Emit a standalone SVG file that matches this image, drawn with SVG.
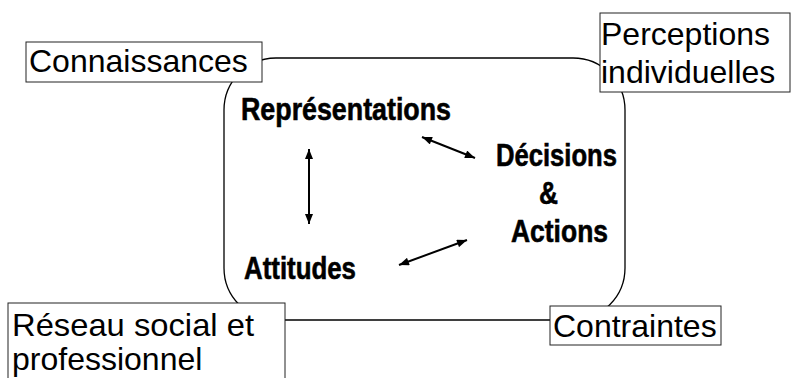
<svg xmlns="http://www.w3.org/2000/svg" width="792" height="378" viewBox="0 0 792 378">
<defs>
<style>
.frame{fill:none;stroke:#000;stroke-width:1.3}
.box{fill:#fff;stroke:#222;stroke-width:1}
.lbl{font-family:"Liberation Sans",Arial,sans-serif;font-size:32px;fill:#000}
.bold{font-family:"Liberation Sans",Arial,sans-serif;font-size:32px;font-weight:bold;fill:#000;stroke:#000;stroke-width:0.6}
.arr{stroke:#000;stroke-width:2;fill:none;marker-end:url(#ah);marker-start:url(#ah)}
</style>
<marker id="ah" viewBox="0 0 10 8" refX="10" refY="4" markerWidth="11" markerHeight="8" markerUnits="userSpaceOnUse" orient="auto-start-reverse">
<path d="M0,0 L10,4 L0,8 Z" fill="#000"/>
</marker>
</defs>
<rect class="frame" x="224" y="58" width="401" height="262" rx="52" ry="52"/>
<g id="connectors">
<line class="arr" x1="309" y1="149" x2="309" y2="224"/>
<line class="arr" x1="422" y1="137" x2="475" y2="158"/>
<line class="arr" x1="399" y1="265" x2="467" y2="240"/>
</g>
<g id="connaissances">
<rect class="box" x="26" y="42" width="236" height="40"/>
<text class="lbl" x="29" y="72">Connaissances</text>
</g>
<g id="perceptions">
<rect class="box" x="600" y="13" width="190" height="79"/>
<text class="lbl" x="601" y="45">Perceptions</text>
<text class="lbl" x="601" y="83">individuelles</text>
</g>
<g id="reseau">
<rect class="box" x="8" y="303" width="277" height="80"/>
<text class="lbl" x="12" y="336" font-size="31" textLength="242" lengthAdjust="spacingAndGlyphs">Réseau social et</text>
<text class="lbl" x="12" y="370" font-size="31">professionnel</text>
</g>
<g id="contraintes">
<rect class="box" x="550" y="306" width="171" height="39"/>
<text class="lbl" x="553" y="337">Contraintes</text>
</g>
<g id="representations">
<text class="bold" x="241" y="120" textLength="210" lengthAdjust="spacingAndGlyphs">Représentations</text>
</g>
<g id="decisions">
<text class="bold" x="496" y="166" textLength="121" lengthAdjust="spacingAndGlyphs">Décisions</text>
<text class="bold" x="539" y="204" textLength="19" lengthAdjust="spacingAndGlyphs">&amp;</text>
<text class="bold" x="511" y="242" textLength="97" lengthAdjust="spacingAndGlyphs">Actions</text>
</g>
<g id="attitudes">
<text class="bold" x="244" y="279" textLength="112" lengthAdjust="spacingAndGlyphs">Attitudes</text>
</g>
</svg>
